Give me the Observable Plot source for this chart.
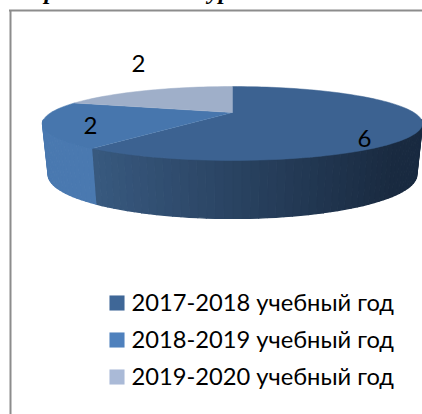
<!DOCTYPE html>
<html><head><meta charset="utf-8">
<script src="https://cdn.jsdelivr.net/npm/d3@7"></script>
<script src="https://cdn.jsdelivr.net/npm/@observablehq/plot@0.6"></script>
<style>html,body{margin:0;padding:0;background:#fff;overflow:hidden}svg{display:block}</style>
</head><body><div id="chart"></div>
<script>
const categories = ["2017-2018 учебный год","2018-2019 учебный год","2019-2020 учебный год"];
const values = [6,2,2];
const topColors = ["#3c6291","#4776ad","#9fafc9"];
const legendColors = ["#3f6797","#4f81bd","#aabad7"];
const sideColorsLeft = ["#38597f","#4a79b0","#9fafc9"];
const sideColorsRight = ["#192a40","#4878ae","#9fafc9"];

const W = 422, H = 414;
const K = 0.297;            // perspective foreshortening of the pie plane
const topPlane = {sx:181.4, sy:33.7, y0:0};
const botPlane = {sx:176,  sy:40,   y0:49};
function project(theta, plane){
  const u = Math.sin(theta), z = -Math.cos(theta), d = 1 - K*z;
  return {x: plane.sx*u/d, y: plane.y0 + plane.sy*z/d};
}
const arcs = d3.pie().sort(null)(values);
const STEP = Math.PI/90;
function thetas(a0,a1){
  const n = Math.max(2, Math.ceil((a1-a0)/STEP));
  return d3.range(n+1).map(i => a0 + (a1-a0)*i/n);
}
const walls = [], tops = [];
let pid = 0;
function addPoly(list, points, fill){ pid++; for(const p of points) list.push({...p, id:pid, fill}); }

arcs.forEach((a,i)=>{
  const ts = thetas(a.startAngle,a.endAngle);
  for(let j=0;j<ts.length-1;j++){
    const t0=ts[j], t1=ts[j+1], mid=(t0+t1)/2;
    if(-Math.cos(mid) < 0.2) continue;   // only the wall that faces the viewer
    const xn=(project(mid,topPlane).x+190)/380;
    const fill = i===0
      ? d3.interpolateRgb(sideColorsLeft[0],sideColorsRight[0])(Math.min(1,Math.max(0,(xn-0.13)/0.8)))
      : sideColorsLeft[i];
    addPoly(walls,[project(t0,topPlane),project(t1,topPlane),project(t1,botPlane),project(t0,botPlane)],fill);
  }
});
arcs.forEach((a,i)=>{
  addPoly(tops,[{x:0,y:0},...thetas(a.startAngle,a.endAngle).map(t=>project(t,topPlane))],topColors[i]);
});

const legend = categories.map((c,i)=>({c,i,color:legendColors[i]}));
const px = d => d - 232, py = d => d - 112;  // picture position -> pie-centred scale position
const labelPos = [[364,139],[90,126],[138,64]];
const labels = values.map((v,i)=>({v,x:px(labelPos[i][0]),y:py(labelPos[i][1])}));
const FONT = "Lato";

const plot = Plot.plot({
  width:W,height:H,margin:0,
  x:{domain:[-232,190],range:[0,W],axis:null},
  y:{domain:[-112,302],range:[0,H],axis:null},
  style:{background:"#fff"},
  marks:[
    Plot.ruleX([px(10)],{y1:py(10),y2:py(414),stroke:"#8c8c8c",strokeWidth:2}),
    Plot.ruleY([py(10)],{x1:px(9),x2:px(422),stroke:"#8c8c8c",strokeWidth:2}),
    Plot.text(["р"],{x:px(50),y:py(-9),text:d=>d,fontFamily:"Liberation Serif",fontWeight:"bold",fontStyle:"italic",fontSize:24,fill:"#000"}),
    Plot.text(["ур"],{x:px(219),y:py(-9),text:d=>d,fontFamily:"Liberation Serif",fontWeight:"bold",fontStyle:"italic",fontSize:24,fill:"#000"}),
    Plot.line(walls,{x:"x",y:"y",z:"id",fill:"fill",stroke:"fill",strokeWidth:1.4,curve:"linear"}),
    Plot.line(tops,{x:"x",y:"y",z:"id",fill:"fill",stroke:"fill",strokeWidth:0.5,curve:"linear"}),
    Plot.text(labels,{x:"x",y:"y",text:d=>String(d.v),fontFamily:FONT,fontSize:24,fill:"#000"}),
    Plot.dot(legend,{x:px(116.5),y:d=>py(302.5+37*d.i),symbol:"square",r:8.5,fill:"color",stroke:null}),
    Plot.text(legend,{x:px(131),y:d=>py(303+37*d.i),text:"c",textAnchor:"start",fontFamily:FONT,fontSize:23.7,fill:"#000"})
  ]
});
document.getElementById("chart").appendChild(plot);
</script></body></html>
